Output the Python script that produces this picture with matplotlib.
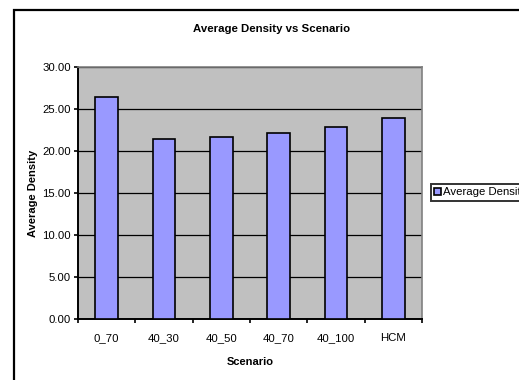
import matplotlib.pyplot as plt
import numpy as np
from matplotlib.patches import Rectangle

# data
scenarios = ["0_70", "40_30", "40_50", "40_70", "40_100", "HCM"]
avg_density = [26.4, 21.4, 21.7, 22.1, 22.8, 23.9]
y_ticks = [0, 5, 10, 15, 20, 25, 30]

plt.rcParams['font.family'] = ['Liberation Sans', 'DejaVu Sans']

fig = plt.figure(figsize=(5.19, 3.80), dpi=100)

# outer chart frame (runs off the right and bottom edge)
fig.add_artist(Rectangle((14 / 519, -0.2), 1.2, 0.2 + 1 - 10 / 380,
                         transform=fig.transFigure, fill=False,
                         edgecolor="black", linewidth=1.6, clip_on=False))

ax = fig.add_axes([78 / 519, 1 - 319 / 380, 344 / 519, 252 / 380])
ax.set_facecolor("#c0c0c0")

x = np.arange(len(scenarios))
ax.bar(x, avg_density, width=0.4, color="#9999ff", edgecolor="black",
       linewidth=1.2, label="Average Density", zorder=3)

ax.set_xlim(-0.5, len(scenarios) - 0.5)
ax.set_ylim(0, 30)
ax.set_yticks(y_ticks)
ax.set_yticklabels([f"{v:.2f}" for v in y_ticks], fontsize=8.2)
ax.grid(axis="y", color="black", linewidth=0.9, zorder=1)

# category labels in the middle, ticks on the boundaries
ax.set_xticks(x)
ax.set_xticklabels(scenarios, fontsize=8.2)
ax.tick_params(axis="x", which="major", length=0, pad=10)
ax.set_xticks(np.arange(len(scenarios) + 1) - 0.5, minor=True)
ax.tick_params(axis="x", which="minor", length=3, width=1.2, direction="out")
ax.tick_params(axis="y", length=3, width=1.2, direction="out", pad=2)

for side in ["top", "right"]:
    ax.spines[side].set_color("#808080")
    ax.spines[side].set_linewidth(1.2)
for side in ["left", "bottom"]:
    ax.spines[side].set_color("black")
    ax.spines[side].set_linewidth(1.4)

ax.set_xlabel("Scenario", fontsize=8, fontweight="bold", labelpad=10)
ax.set_ylabel("Average Density", fontsize=8, fontweight="bold", labelpad=3)
fig.text(272 / 519, 1 - 29 / 380, "Average Density vs Scenario",
         ha="center", va="center", fontsize=8.2, fontweight="bold")

# legend box runs past the right edge, as in the original
leg = ax.legend(loc="upper left", bbox_to_anchor=(431 / 519, 1 - 184 / 380),
                bbox_transform=fig.transFigure, fontsize=8.2, frameon=True,
                fancybox=False, borderpad=0.3, handlelength=0.6,
                handleheight=0.6, handletextpad=0.15, borderaxespad=0)
leg.get_frame().set_edgecolor("black")
leg.get_frame().set_linewidth(1.4)

fig.savefig("out.png", dpi=100)
